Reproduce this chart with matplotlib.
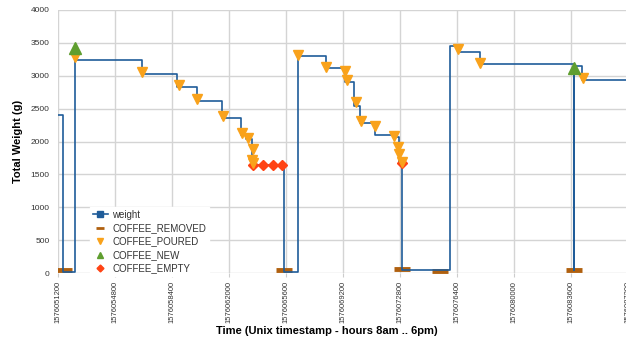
import matplotlib
matplotlib.use("Agg")
import matplotlib.pyplot as plt
from matplotlib.lines import Line2D

plt.rcParams['font.family'] = ['Liberation Sans', 'DejaVu Sans']

# weight series (step changes): unix time, grams
w_time = [1576051200, 1576051535, 1576052274, 1576052337, 1576056486, 1576058735,
          1576059960, 1576061539, 1576062739, 1576063074, 1576063453, 1576065474,
          1576066340, 1576068127, 1576069295, 1576069914, 1576070274, 1576071221,
          1576072484, 1576072737, 1576072908, 1576075958, 1576076432, 1576077853,
          1576083770, 1576083805, 1576084296, 1576087200]
w_val = [2410, 15, 3430, 3240, 3025, 2835,
         2620, 2365, 2100, 2035, 1645, 15,
         3300, 3115, 2900, 2545, 2285, 2105,
         2070, 1660, 45, 3460, 3365, 3175,
         50, 3150, 2935, 2935]

# events
removed_t = [1576051579, 1576065474, 1576072927, 1576075327, 1576083790]
removed_w = [40, 40, 60, 30, 45]

poured_t = [1576052274, 1576056486, 1576058842, 1576059960, 1576061602, 1576062802,
            1576063219, 1576063535, 1576063472, 1576063516, 1576066340, 1576068127,
            1576069326, 1576069434, 1576070021, 1576070337, 1576071221, 1576072440,
            1576072693, 1576072718, 1576072908, 1576076445, 1576077853, 1576084341]
poured_w = [3280, 3050, 2860, 2645, 2390, 2125,
            2060, 1885, 1720, 1670, 3315, 3140,
            3075, 2935, 2595, 2315, 2240, 2090,
            1920, 1810, 1690, 3400, 3190, 2960]

new_t = [1576052274, 1576083790]
new_w = [3420, 3120]

empty_t = [1576072908, 1576063535, 1576064166, 1576064760, 1576065366]
empty_w = [1670, 1645, 1645, 1645, 1645]

xticks = list(range(1576051200, 1576087201, 3600))

c_line = '#1f5c99'
c_removed = '#b0600f'
c_poured = '#f9a21b'
c_new = '#5f9e2f'
c_empty = '#ff4314'

fig = plt.figure(figsize=(6.26, 3.43), dpi=100)
ax = fig.add_axes([58/626, 70/343, 570/626, 263/343])

ax.step(w_time, w_val, where='post', color=c_line, lw=1.2, zorder=3)
ax.plot(empty_t, empty_w, 'D', color=c_empty, ms=4.8, ls='none', zorder=4)
ax.plot(poured_t, poured_w, 'v', color=c_poured, ms=7.5, ls='none', zorder=5)
ax.plot(new_t, new_w, '^', color=c_new, ms=8.5, ls='none', zorder=6)
ax.plot(removed_t, removed_w, '_', color=c_removed, ms=11, mew=3.5, ls='none', zorder=2)

ax.set_xlim(1576051200, 1576087200)
ax.set_ylim(0, 4000)
ax.set_xticks(xticks)
ax.set_xticklabels([str(t) for t in xticks], rotation=90, fontsize=5.5, color='#333333')
ax.set_yticks(range(0, 4001, 500))
ax.tick_params(axis='y', labelsize=6, colors='#333333', length=0, pad=6)
ax.tick_params(axis='x', length=3, color='#cccccc', pad=3)
ax.grid(True, color='#d4d4d4', lw=1)
ax.set_axisbelow(True)
for s in ax.spines.values():
    s.set_visible(False)

ax.set_ylabel('Total Weight (g)', fontsize=8, fontweight='bold')
ax.yaxis.set_label_coords(-0.062, 0.5)
ax.set_xlabel('Time (Unix timestamp - hours 8am .. 6pm)', fontsize=8, fontweight='bold')
ax.xaxis.set_label_coords(0.472, -0.2)

handles = [
    Line2D([], [], color=c_line, marker='s', ms=4, lw=1.2),
    Line2D([], [], color=c_removed, marker='_', ms=6, mew=2, ls='none'),
    Line2D([], [], color=c_poured, marker='v', ms=5, ls='none'),
    Line2D([], [], color=c_new, marker='^', ms=5, ls='none'),
    Line2D([], [], color=c_empty, marker='D', ms=3.5, ls='none'),
]
labels = ['weight', 'COFFEE_REMOVED', 'COFFEE_POURED', 'COFFEE_NEW', 'COFFEE_EMPTY']
leg = ax.legend(handles, labels, loc='upper left', bbox_to_anchor=(0.047, 0.27),
                fontsize=7, frameon=True, fancybox=False, edgecolor='white',
                framealpha=1, handlelength=1.6, handletextpad=0.4,
                labelspacing=0.35, borderpad=0.3)
for t in leg.get_texts():
    t.set_color('#333333')

fig.savefig('out.png', dpi=100)
